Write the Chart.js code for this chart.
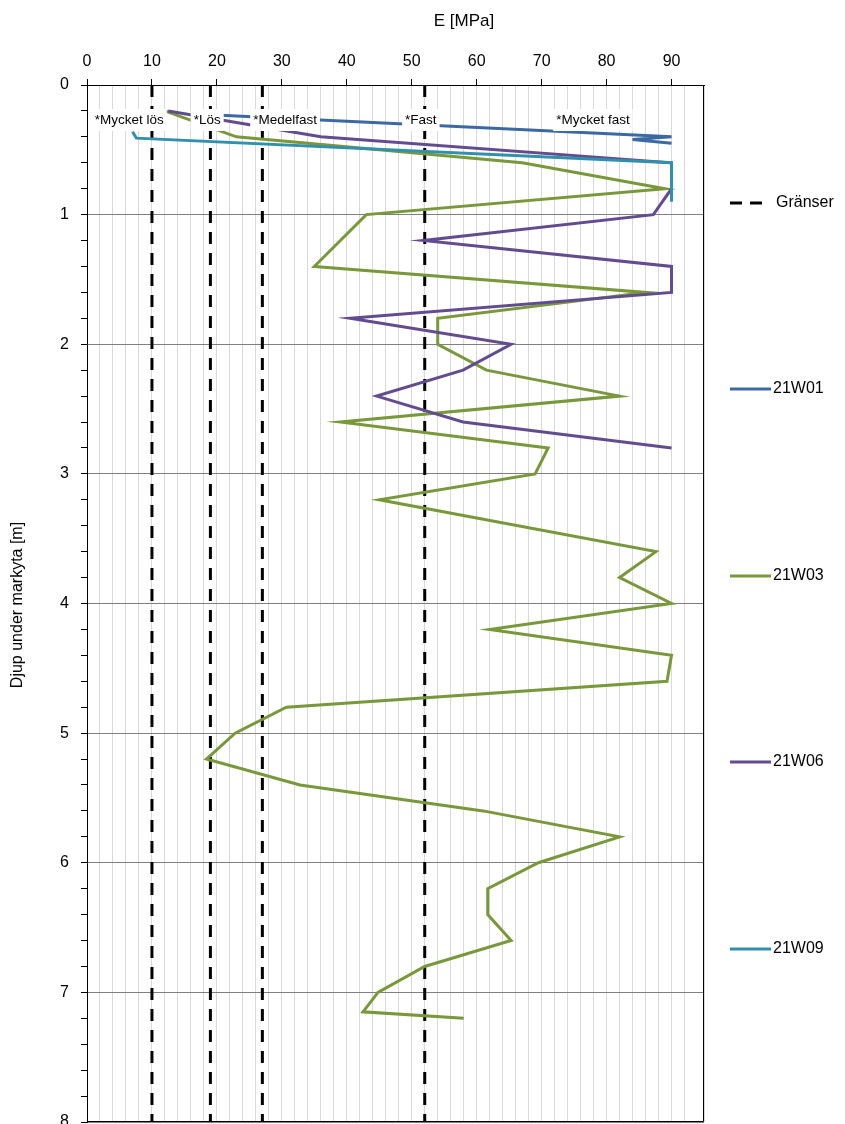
<!DOCTYPE html>
<html><head><meta charset="utf-8">
<script src="https://cdn.jsdelivr.net/npm/chart.js@4/dist/chart.umd.min.js"></script>
<style>html,body{margin:0;padding:0;background:#fff;overflow:hidden}canvas{display:block}</style>
</head><body>
<canvas id="c" width="845" height="1124"></canvas>
<script>
// ---- data ----
const seriesNames = ['21W01', '21W03', '21W06', '21W09'];
const seriesColors = ['#3B6AA3', '#78983A', '#634B8F', '#3190AB'];

const depth21W01 = [0.23, 0.40, 0.42, 0.45];
const e21W01     = [19, 90, 84, 90];

const depth21W03 = [0.2, 0.4, 0.6, 0.8, 1.0, 1.4, 1.6, 1.8, 2.0, 2.2, 2.4, 2.6, 2.8, 3.0, 3.2, 3.6, 3.8, 4.0, 4.2, 4.4, 4.6, 4.8, 5.0, 5.2, 5.4, 5.6, 5.8, 6.0, 6.2, 6.4, 6.6, 6.8, 7.0, 7.15, 7.2];
const e21W03     = [12, 23, 67, 89, 43, 35, 86, 54, 54, 61.5, 82, 39, 71, 69, 45, 87.6, 82, 90, 62, 90, 89.3, 30.7, 22.8, 18.4, 32.8, 61, 82, 69.5, 61.7, 61.7, 65.3, 52, 44.8, 42.5, 58];

const depth21W06 = [0.2, 0.4, 0.6, 0.8, 1.0, 1.2, 1.4, 1.6, 1.8, 2.0, 2.2, 2.4, 2.6, 2.8];
const e21W06     = [12.5, 36, 90, 90, 87.2, 51.8, 90, 90, 40.5, 65.3, 57.9, 44.6, 57.9, 90];

const depth21W09 = [0.36, 0.41, 0.6, 0.9];
const e21W09     = [7, 7.6, 90, 90];

const boundaryName = 'Gränser';
const boundaryValues = [10, 19, 27, 52];
const boundaryDepthRange = [0, 8];

const zoneLabels = ['*Mycket lös', '*Lös', '*Medelfast', '*Fast', '*Mycket fast'];
const zoneLabelE = [6.5, 18.5, 30.5, 51.4, 77.9];
const zoneLabelDepth = 0.27;

const xTickLabels = [0, 10, 20, 30, 40, 50, 60, 70, 80, 90];
const yTickLabels = [0, 1, 2, 3, 4, 5, 6, 7, 8];
const xTitle = 'E [MPa]';
const yTitle = 'Djup under markyta [m]';

// ---- build ----
const FONT = '"Liberation Sans", Arial, sans-serif';
const seriesDepths = [depth21W01, depth21W03, depth21W06, depth21W09];
const seriesE = [e21W01, e21W03, e21W06, e21W09];
const pts = (es, ds) => es.map((v, i) => ({x: v, y: ds[i]}));

const datasets = [];
boundaryValues.forEach(b => {
  datasets.push({
    label: boundaryName,
    data: [{x: b, y: boundaryDepthRange[0]}, {x: b, y: boundaryDepthRange[1]}],
    borderColor: '#000', borderWidth: 3, borderDash: [12, 9],
    pointRadius: 0, showLine: true, order: 10
  });
});
seriesNames.forEach((n, i) => {
  datasets.push({
    label: n,
    data: pts(seriesE[i], seriesDepths[i]),
    borderColor: seriesColors[i], borderWidth: 3,
    pointRadius: 0, showLine: true, tension: 0, order: 4 - i,
    borderJoinStyle: 'miter'
  });
});

const isInt = v => Math.abs(v - Math.round(v)) < 1e-6;

const overlay = {
  id: 'overlay',
  afterDatasetsDraw(chart) {
    const {ctx, scales: {x, y}, chartArea: a} = chart;
    ctx.save();
    ctx.font = '13.5px ' + FONT;
    ctx.textAlign = 'center';
    ctx.textBaseline = 'middle';
    zoneLabels.forEach((t, i) => {
      const px = x.getPixelForValue(zoneLabelE[i]);
      const py = y.getPixelForValue(zoneLabelDepth);
      const w = ctx.measureText(t).width;
      ctx.fillStyle = '#fff';
      ctx.fillRect(px - w / 2 - 3, py - 11, w + 6, 22);
      ctx.fillStyle = '#000';
      ctx.fillText(t, px, py);
    });
    ctx.strokeStyle = '#000';
    ctx.lineWidth = 1;
    ctx.beginPath();
    const r = Math.round(a.right) - 0.5, b = Math.round(a.bottom) - 0.5;
    ctx.moveTo(r, a.top); ctx.lineTo(r, b);
    ctx.moveTo(a.left, b); ctx.lineTo(r, b);
    ctx.stroke();
    ctx.restore();
  },
  afterDraw(chart) {
    const {ctx} = chart;
    ctx.save();
    ctx.fillStyle = '#000';
    ctx.font = '17px ' + FONT;
    ctx.textAlign = 'center';
    ctx.textBaseline = 'middle';
    ctx.fillText(xTitle, 464, 21);
    ctx.font = '16px ' + FONT;
    ctx.translate(18, 605);
    ctx.rotate(-Math.PI / 2);
    ctx.fillText(yTitle, 0, 0);
    ctx.setTransform(1, 0, 0, 1, 0, 0);
    ctx.font = '16px ' + FONT;
    ctx.textAlign = 'left';
    const legY = [203, 389, 576, 762, 949];
    ctx.lineWidth = 3;
    ctx.strokeStyle = '#000';
    ctx.setLineDash([12, 8]);
    ctx.beginPath(); ctx.moveTo(730, legY[0]); ctx.lineTo(762, legY[0]); ctx.stroke();
    ctx.setLineDash([]);
    ctx.fillText(boundaryName, 776, legY[0]);
    seriesNames.forEach((n, i) => {
      ctx.strokeStyle = seriesColors[i];
      ctx.beginPath(); ctx.moveTo(730, legY[i + 1]); ctx.lineTo(771, legY[i + 1]); ctx.stroke();
      ctx.fillText(n, 773, legY[i + 1]);
    });
    ctx.restore();
  }
};

new Chart(document.getElementById('c'), {
  type: 'scatter',
  data: {datasets},
  options: {
    responsive: false,
    devicePixelRatio: 1,
    animation: false,
    layout: {padding: {left: 0, right: 141, top: 0, bottom: 0}},
    plugins: {legend: {display: false}, tooltip: {enabled: false}},
    elements: {line: {borderCapStyle: 'butt'}},
    scales: {
      x: {
        type: 'linear', position: 'top', min: 0, max: 95,
        ticks: {
          stepSize: 2, autoSkip: false, maxRotation: 0, padding: 8,
          color: '#000', font: {family: FONT, size: 16},
          callback: v => xTickLabels.includes(v) ? String(v) : ''
        },
        grid: {
          color: '#d9d9d9', lineWidth: 1, tickLength: 6,
          tickColor: ctx => (ctx.tick && xTickLabels.includes(ctx.tick.value)) ? '#000' : 'rgba(0,0,0,0)'
        },
        border: {color: '#000', width: 1},
        afterFit: s => { s.height = 85; s.paddingLeft = 0; s.paddingRight = 0; }
      },
      y: {
        type: 'linear', reverse: true, min: 0, max: 8,
        ticks: {
          stepSize: 0.2, autoSkip: false, padding: 12,
          color: '#000', font: {family: FONT, size: 16},
          callback: v => isInt(v) && yTickLabels.includes(Math.round(v)) ? String(Math.round(v)) : ''
        },
        grid: {
          color: ctx => (ctx.tick && isInt(ctx.tick.value)) ? '#808080' : 'rgba(0,0,0,0)',
          lineWidth: 1, tickLength: 6, tickColor: '#000'
        },
        border: {color: '#000', width: 1},
        afterFit: s => { s.width = 87; s.paddingTop = 0; s.paddingBottom = 2; }
      }
    }
  },
  plugins: [overlay]
});
</script>
</body></html>
